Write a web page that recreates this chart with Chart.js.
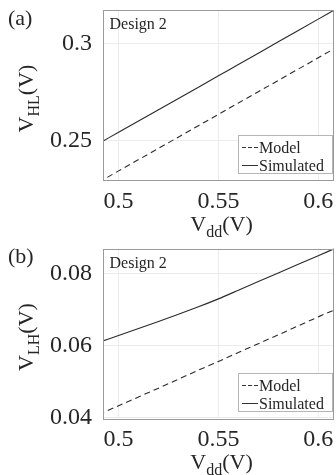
<!DOCTYPE html>
<html>
<head>
<meta charset="utf-8">
<script src="https://cdn.jsdelivr.net/npm/chart.js@4.4.1/dist/chart.umd.min.js"></script>
<style>
  html, body { margin: 0; padding: 0; background: #fff; }
  .panel { position: relative; width: 336px; }
  #wrapA { height: 237px; }
  #wrapB { height: 238px; }
</style>
</head>
<body>
<div class="panel" id="wrapA"><canvas id="chartA"></canvas></div>
<div class="panel" id="wrapB"><canvas id="chartB"></canvas></div>
<script>
// supply voltage samples (V)
const vdd = [0.49, 0.50, 0.52, 0.54, 0.55, 0.56, 0.58, 0.60, 0.61];

// (a) V_HL
const vhlModel     = [0.2287, 0.2346, 0.2462, 0.2579, 0.2637, 0.2696, 0.2812, 0.2929, 0.2987];
const vhlSimulated = [0.2487, 0.2545, 0.2661, 0.2777, 0.2836, 0.2894, 0.3011, 0.3128, 0.3186];

// (b) V_LH
const vlhModel     = [0.0409, 0.0433, 0.0482, 0.0532, 0.0556, 0.0581, 0.0630, 0.0680, 0.0704];
const vlhSimulated = [0.0609, 0.0628, 0.0667, 0.0708, 0.0730, 0.0754, 0.0802, 0.0850, 0.0874];

const xTicks  = [0.5, 0.55, 0.6];
const yTicksA = [0.25, 0.3];
const yTicksB = [0.04, 0.06, 0.08];

const SERIF = "'Liberation Serif', 'Times New Roman', serif";
const INK = "#262626";

function pairs(ys) {
  return vdd.map((x, i) => ({ x: x, y: ys[i] }));
}

// V + subscript + (V), optionally rotated for the y axis
function drawVLabel(ctx, sub, cx, baseY, rotated) {
  ctx.save();
  const big = "22px " + SERIF, small = "16px " + SERIF;
  ctx.font = big;
  const wV = ctx.measureText("V").width;
  const wT = ctx.measureText("(V)").width;
  ctx.font = small;
  const wS = ctx.measureText(sub).width;
  ctx.translate(cx, baseY);
  if (rotated) ctx.rotate(-Math.PI / 2);
  let x = -(wV + wS + wT) / 2;
  ctx.fillStyle = INK;
  ctx.textAlign = "left";
  ctx.textBaseline = "alphabetic";
  ctx.font = big;   ctx.fillText("V", x, 0);   x += wV;
  ctx.font = small; ctx.fillText(sub, x, 6);   x += wS;
  ctx.font = big;   ctx.fillText("(V)", x, 0);
  ctx.restore();
}

const decorPlugin = {
  id: "decor",
  afterDraw(chart, args, opts) {
    const ctx = chart.ctx;
    const a = chart.chartArea;

    // axes box
    ctx.save();
    ctx.strokeStyle = "#9a9a9a";
    ctx.lineWidth = 1;
    ctx.strokeRect(Math.round(a.left) + 0.5, Math.round(a.top) + 0.5,
                   Math.round(a.right - a.left) - 1, Math.round(a.bottom - a.top));
    ctx.restore();

    // panel label and "Design 2"
    ctx.save();
    ctx.fillStyle = INK;
    ctx.textAlign = "left";
    ctx.textBaseline = "alphabetic";
    ctx.font = "22px " + SERIF;
    ctx.fillText(opts.panel, 8, opts.panelY);
    ctx.font = "16px " + SERIF;
    ctx.fillText("Design 2", a.left + 6.5, a.top + 19);
    ctx.restore();

    // axis titles
    drawVLabel(ctx, opts.ySub, 33, a.top + 88.5, true);
    drawVLabel(ctx, "dd", (a.left + a.right) / 2 + 3, a.bottom + 51, false);

    // legend
    const left = 238, right = a.right - 1;
    const bottom = Math.round(a.bottom - 7) + 0.5, top = bottom - 38;
    ctx.save();
    ctx.fillStyle = "#fff";
    ctx.fillRect(left, top, right - left, bottom - top);
    ctx.strokeStyle = "#b5b5b5";
    ctx.lineWidth = 1;
    ctx.strokeRect(left + 0.5, top, right - left - 1, bottom - top);
    const rows = [["Model", [4, 2]], ["Simulated", []]];
    rows.forEach((r, i) => {
      const y = Math.round(top + 11 + i * 18) + 0.5;
      ctx.strokeStyle = "#333";
      ctx.lineWidth = 1;
      ctx.setLineDash(r[1]);
      ctx.beginPath();
      ctx.moveTo(242, y);
      ctx.lineTo(258, y);
      ctx.stroke();
      ctx.setLineDash([]);
      ctx.fillStyle = INK;
      ctx.font = "16px " + SERIF;
      ctx.textAlign = "left";
      ctx.textBaseline = "middle";
      ctx.fillText(r[0], 259, y + 1);
    });
    ctx.restore();
  }
};

function makeChart(id, model, sim, yMin, yMax, yTicks, topPad, panel, panelY, ySub) {
  const ctx = document.getElementById(id).getContext("2d");
  return new Chart(ctx, {
    type: "line",
    data: {
      datasets: [
        {
          label: "Model",
          data: pairs(model),
          borderColor: "#2a2a2a",
          borderWidth: 1.1,
          borderDash: [6, 4],
          pointRadius: 0,
          tension: 0
        },
        {
          label: "Simulated",
          data: pairs(sim),
          borderColor: "#2a2a2a",
          borderWidth: 1.1,
          pointRadius: 0,
          tension: 0.2
        }
      ]
    },
    options: {
      responsive: true,
      maintainAspectRatio: false,
      animation: false,
      layout: { padding: { left: 0, right: 2, top: topPad, bottom: 0 } },
      plugins: {
        legend: { display: false },
        tooltip: { enabled: false },
        decor: { panel: panel, panelY: panelY, ySub: ySub }
      },
      scales: {
        x: {
          type: "linear",
          min: 0.4922,
          max: 0.6079,
          afterBuildTicks: (s) => { s.ticks = xTicks.map(v => ({ value: v })); },
          afterFit: (s) => { s.height = 57; s.paddingLeft = 0; s.paddingRight = 0; },
          grid: { color: "#ececec", drawTicks: false },
          border: { display: false },
          ticks: {
            padding: 7,
            maxRotation: 0,
            color: INK,
            font: { family: SERIF, size: 24 },
            callback: (v) => String(v)
          }
        },
        y: {
          min: yMin,
          max: yMax,
          afterBuildTicks: (s) => { s.ticks = yTicks.map(v => ({ value: v })); },
          afterFit: (s) => { s.width = 103; s.paddingTop = 0; s.paddingBottom = 0; },
          grid: { color: "#ececec", drawTicks: false },
          border: { display: false },
          ticks: {
            padding: 11,
            color: INK,
            font: { family: SERIF, size: 24 },
            callback: (v) => String(v)
          }
        }
      }
    },
    plugins: [decorPlugin]
  });
}

makeChart("chartA", vhlModel, vhlSimulated, 0.2299, 0.3175, yTicksA, 10, "(a)", 25, "HL");
makeChart("chartB", vlhModel, vlhSimulated, 0.0399, 0.0870, yTicksB, 11.5, "(b)", 26, "LH");
</script>
</body>
</html>
